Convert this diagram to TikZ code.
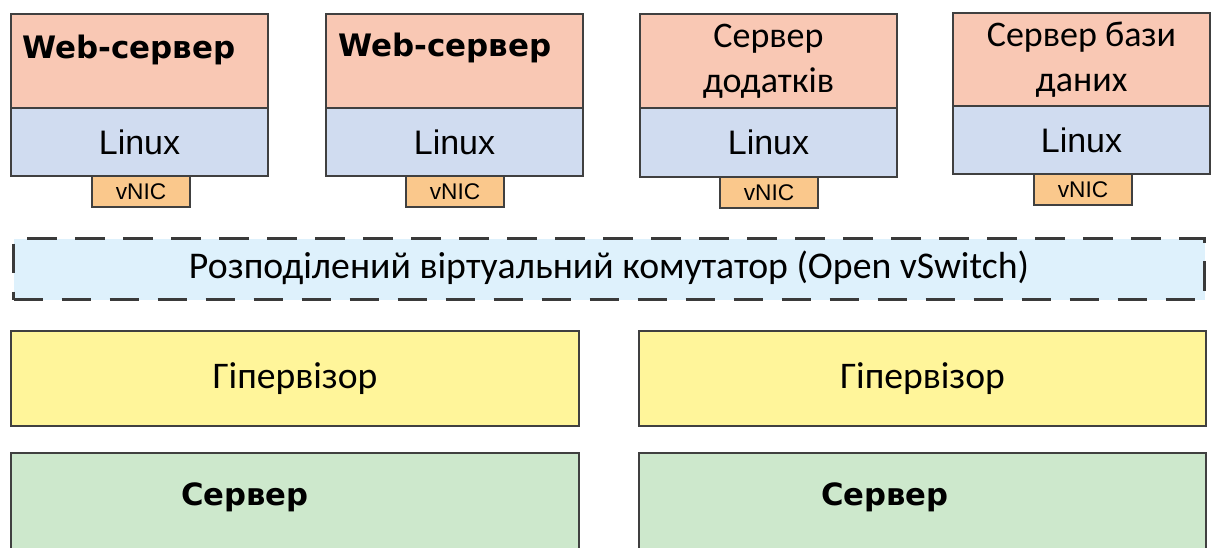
\documentclass[tikz,border=0pt]{standalone}
\usepackage{fontspec}
\setmainfont{Carlito}
\newfontfamily\vfont{DejaVu Sans}
\newfontfamily\afont{Liberation Sans}
\definecolor{bordc}{HTML}{404040}
\definecolor{headc}{HTML}{F9C8B4}
\definecolor{linc}{HTML}{D0DCF0}
\definecolor{nicc}{HTML}{FAC88C}
\definecolor{swc}{HTML}{DEF1FC}
\definecolor{swline}{HTML}{A8DCF4}
\definecolor{dashc}{HTML}{3A3A3A}
\definecolor{hypc}{HTML}{FFF59A}
\definecolor{srvc}{HTML}{CDE8CC}
\tikzset{
  box/.style={draw=bordc, line width=1.5pt, rectangle, inner sep=0pt, anchor=north west},
  sz/.style 2 args={minimum width=#1*0.75pt, minimum height=#2*0.75pt},
  webt/.style={font=\vfont\bfseries\fontsize{23.2}{27}\selectfont, anchor=west, inner sep=0pt},
  linuxt/.style={font=\afont\fontsize{25.5}{30}\selectfont, inner sep=0pt},
  nict/.style={font=\afont\fontsize{17}{20}\selectfont, inner sep=0pt},
  calt/.style={font=\fontsize{27}{34}\selectfont, align=center, inner sep=0pt},
  swt/.style={font=\fontsize{28.3}{32}\selectfont, inner sep=0pt},
  hypt/.style={font=\fontsize{28.2}{32}\selectfont, inner sep=0pt},
  srvt/.style={font=\vfont\bfseries\fontsize{23}{27}\selectfont, inner sep=0pt},
}
\begin{document}
\begin{tikzpicture}[x=0.75pt,y=-0.75pt]
\useasboundingbox (0,0) rectangle (1211,547);
\clip (0,0) rectangle (1211,547);
% VM 1
\node[box, fill=nicc, sz={98}{31}] (n1) at (91,175) {};
\node[box, fill=linc, sz={257}{68}] (l1) at (10,107) {};
\node[box, fill=headc, sz={257}{94}] (h1) at (10,13) {};
\node[webt] (th1) at (22,50) {Web-сервер};
\node[linuxt] (tl1) at (l1.center) {Linux};
\node[nict] (tn1) at (n1.center) {vNIC};
% VM 2
\node[box, fill=nicc, sz={98}{31}] (n2) at (405,175) {};
\node[box, fill=linc, sz={257}{68}] (l2) at (325,107) {};
\node[box, fill=headc, sz={257}{94}] (h2) at (325,13) {};
\node[webt] (th2) at (338,48) {Web-сервер};
\node[linuxt] (tl2) at (l2.center) {Linux};
\node[nict] (tn2) at (n2.center) {vNIC};
% VM 3
\node[box, fill=nicc, sz={98}{31}] (n3) at (719,176) {};
\node[box, fill=linc, sz={257}{69}] (l3) at (639,107) {};
\node[box, fill=headc, sz={257}{94}] (h3) at (639,13) {};
\node[calt] (th3) at (h3.center) {Сервер\\додатків};
\node[linuxt] (tl3) at (l3.center) {Linux};
\node[nict] (tn3) at (n3.center) {vNIC};
% VM 4
\node[box, fill=nicc, sz={98}{31}] (n4) at (1033,173) {};
\node[box, fill=linc, sz={257}{68}] (l4) at (952,105) {};
\node[box, fill=headc, sz={257}{93}] (h4) at (952,12) {};
\node[calt] (th4) at (h4.center) {Сервер бази\\даних};
\node[linuxt] (tl4) at (l4.center) {Linux};
\node[nict] (tn4) at (n4.center) {vNIC};
% switch
\node[box, fill=swc, draw=dashc, line width=2.6pt, dash pattern=on 22pt off 14pt,
      preaction={draw=swline, line width=1pt}, sz={1191}{61}] (sw) at (12,237) {};
\node[swt] (tsw) at (609,268) {Розподілений віртуальний комутатор (Open vSwitch)};
% hypervisors
\node[box, fill=hypc, sz={568}{95}] (hy1) at (10,330) {};
\node[hypt] (thy1) at (hy1.center) {Гіпервізор};
\node[box, fill=hypc, sz={567}{95}] (hy2) at (638,330) {};
\node[hypt] (thy2) at (hy2.center) {Гіпервізор};
% servers
\node[box, fill=srvc, sz={568}{120}] (s1) at (10,452) {};
\node[srvt] (ts1) at (245,497) {Сервер};
\node[box, fill=srvc, sz={567}{120}] (s2) at (638,452) {};
\node[srvt] (ts2) at (885,497) {Сервер};
\end{tikzpicture}
\end{document}
